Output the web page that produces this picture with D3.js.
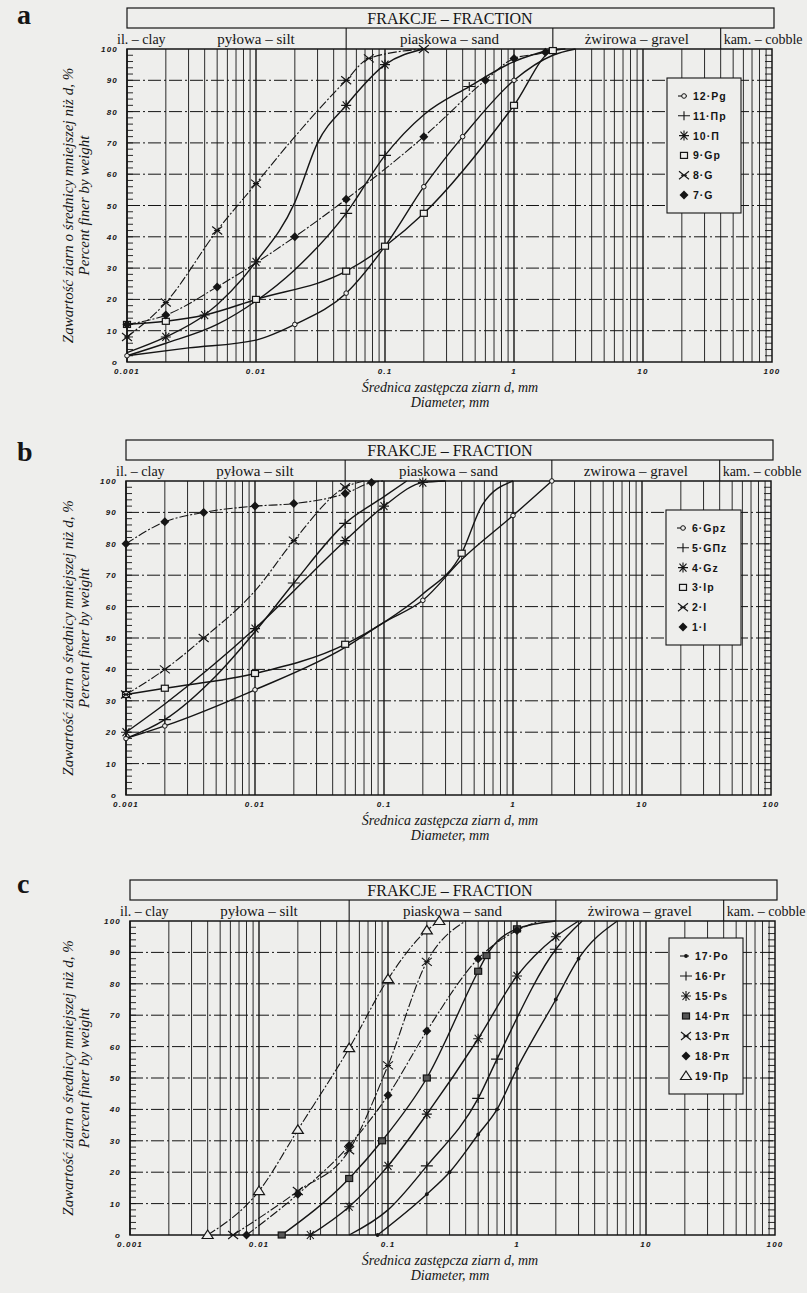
<!DOCTYPE html>
<meta charset="utf-8">
<style>
body { margin: 0; background: #eeeeec; }
svg { display: block; }
</style>
<body>
<script src="https://d3js.org/d3.v7.min.js"></script>
<script>

// axis ticks and fraction header
var sizeTicks = [0.001, 0.01, 0.1, 1, 10, 100];
var sizeTickLabels = ["0.001", "0.01", "0.1", "1", "10", "100"];
var percentTicks = [0, 10, 20, 30, 40, 50, 60, 70, 80, 90, 100];
var fractionLimits = [0.002, 0.05, 2, 40];
var fractionNames = ["il. – clay", "pyłowa – silt", "piaskowa – sand", "żwirowa – gravel", "kam. – cobble"];
var fractionNamesB = ["il. – clay", "pyłowa – silt", "piaskowa – sand", "zwirowa – gravel", "kam. – cobble"];

// [diameter mm, percent finer, 1 = measured point with marker]
// panel a
var a12Pg = [[0.001,2,1],[0.003,4.5,0],[0.01,7,0],[0.02,12,1],[0.05,22,1],[0.1,37,0],[0.2,56,1],[0.4,72,1],[1,90,1],[2,98,0],[3,100,0]];
var a11Pp = [[0.001,2,0],[0.002,6,0],[0.005,12,0],[0.01,19.5,0],[0.02,29.5,0],[0.05,47.5,1],[0.1,66,1],[0.2,79,0],[0.45,88,1],[1,96,0],[2,100,0]];
var a10P  = [[0.001,3,0],[0.002,8,1],[0.004,15,1],[0.01,32,1],[0.02,51,0],[0.03,70,0],[0.05,82,1],[0.1,95,1],[0.2,100,0]];
var a9Gp  = [[0.001,12,1],[0.002,13,1],[0.004,15,0],[0.01,20,1],[0.05,29,1],[0.1,37,1],[0.2,47.5,1],[1,82,1],[2,99.5,1],[2.5,100,0]];
var a8G   = [[0.001,8,1],[0.002,19,1],[0.005,42,1],[0.01,57,1],[0.02,72,0],[0.05,90,1],[0.075,97,1],[0.2,100,1]];
var a7G   = [[0.001,12,1],[0.002,15,1],[0.005,24,1],[0.02,40,1],[0.05,52,1],[0.2,72,1],[0.6,90,1],[1,97,1],[1.75,99,1],[2,100,0]];
var legendA = ["12·Pg", "11·Πp", "10·Π", "9·Gp", "8·G", "7·G"];

// panel b
var b6Gpz = [[0.001,18,1],[0.002,22,1],[0.01,33.5,1],[0.05,47,0],[0.1,55,0],[0.2,62,1],[0.4,75,0],[1,89,1],[2,100,1]];
var b5GPz = [[0.001,18,0],[0.002,24,1],[0.005,38,0],[0.01,52,0],[0.02,67.5,1],[0.05,86.5,1],[0.1,95,0],[0.15,100,0]];
var b4Gz  = [[0.001,20,1],[0.002,29,0],[0.01,53,1],[0.05,81,1],[0.1,92,1],[0.2,99.5,1],[0.3,100,0]];
var b3Ip  = [[0.001,32,1],[0.002,34,1],[0.01,38.7,1],[0.05,48,1],[0.1,55,0],[0.2,64,0],[0.4,77,1],[0.58,92.5,0],[1,100,0]];
var b2I   = [[0.001,32,1],[0.002,40,1],[0.004,50,1],[0.01,65,0],[0.02,81,1],[0.05,98,1],[0.07,100,0]];
var b1I   = [[0.001,80,1],[0.002,87,1],[0.004,90,1],[0.01,92,1],[0.02,92.8,1],[0.05,96,1],[0.08,99.5,1],[0.1,100,0]];
var legendB = ["6·Gpz", "5·GΠz", "4·Gz", "3·Ip", "2·I", "1·I"];

// panel c
var c17Po = [[0.083,0,1],[0.2,13,1],[0.3,20,1],[0.5,32,1],[0.7,40,1],[1,53,1],[2,75,1],[3,88,1],[6,100,0]];
var c16Pr = [[0.05,0,0],[0.1,8,0],[0.2,22,1],[0.5,43.5,1],[0.7,56,1],[2,91,1],[3.2,100,0]];
var c15Ps = [[0.025,0,1],[0.05,9,1],[0.1,22,1],[0.2,38.5,1],[0.5,62.5,1],[1,82.5,1],[2,95,1],[3,100,0]];
var c14Pp = [[0.015,0,1],[0.05,18,1],[0.09,30,1],[0.2,50,1],[0.5,84,1],[0.58,89,1],[1,97.5,1],[2,100,0]];
var c13Pp = [[0.0063,0,1],[0.02,14,1],[0.05,27,1],[0.1,54,1],[0.2,87,1],[0.4,100,0]];
var c18Pp = [[0.008,0,1],[0.02,13,1],[0.05,28.5,1],[0.1,44.5,1],[0.2,65,1],[0.5,88,1],[1,97,1],[1.5,100,0]];
var c19Pp = [[0.004,0,1],[0.01,14,1],[0.02,33.5,1],[0.05,59.5,1],[0.1,81.5,1],[0.2,97,1],[0.25,100,1]];
var legendC = ["17·Po", "16·Pr", "15·Ps", "14·Pπ", "13·Pπ", "18·Pπ", "19·Πp"];

var BG = "#eeeeec", INK = "#151515";
var SERIF = "'Liberation Serif', 'DejaVu Serif', serif";
var SANS = "'Liberation Sans', Arial, sans-serif";

var panels = [
  { label: "a", labelY: 24, x0: 127, y100: 49, y0: 362, names: fractionNames,
    series: [a12Pg, a11Pp, a10P, a9Gp, a8G, a7G], legend: legendA,
    marks: ["circle", "plus", "asterisk", "square", "cross", "diamond"],
    dashed: [0, 0, 0, 0, 1, 1], leg: { x: 667, y: 78, w: 74, h: 135 } },
  { label: "b", labelY: 461, x0: 126, y100: 481, y0: 795, names: fractionNamesB,
    series: [b6Gpz, b5GPz, b4Gz, b3Ip, b2I, b1I], legend: legendB,
    marks: ["circle", "plus", "asterisk", "square", "cross", "diamond"],
    dashed: [0, 0, 0, 0, 1, 1], leg: { x: 666, y: 510, w: 75, h: 135 } },
  { label: "c", labelY: 893, x0: 130, y100: 921, y0: 1235, names: fractionNames,
    series: [c17Po, c16Pr, c15Ps, c14Pp, c13Pp, c18Pp, c19Pp], legend: legendC,
    marks: ["dot", "plus", "asterisk", "squareF", "cross", "diamond", "triangle"],
    dashed: [0, 0, 0, 0, 1, 1, 1], leg: { x: 669, y: 938, w: 74, h: 156 } }
];

var svg = d3.select("body").append("svg")
    .attr("width", 807)
    .attr("height", 1293);

svg.append("rect").attr("width", 807).attr("height", 1293).attr("fill", BG);

function drawMarker(g, type, x, y) {
  var p = d3.path();
  if (type == "circle") {
    g.append("circle").attr("cx", x).attr("cy", y).attr("r", 2.3)
      .attr("fill", BG).attr("stroke", INK).attr("stroke-width", 1);
    return;
  }
  if (type == "dot") {
    g.append("circle").attr("cx", x).attr("cy", y).attr("r", 1.9).attr("fill", INK);
    return;
  }
  if (type == "square" || type == "squareF") {
    g.append("rect").attr("x", x - 3.5).attr("y", y - 3).attr("width", 7).attr("height", 6)
      .attr("fill", type == "squareF" ? "#555" : BG).attr("stroke", INK).attr("stroke-width", 1.2);
    return;
  }
  if (type == "diamond") {
    p.moveTo(x, y - 4.5); p.lineTo(x + 4.5, y); p.lineTo(x, y + 4.5); p.lineTo(x - 4.5, y); p.closePath();
    g.append("path").attr("d", p.toString()).attr("fill", INK);
    return;
  }
  if (type == "triangle") {
    p.moveTo(x, y - 5); p.lineTo(x + 5.5, y + 3.5); p.lineTo(x - 5.5, y + 3.5); p.closePath();
    g.append("path").attr("d", p.toString()).attr("fill", BG).attr("stroke", INK).attr("stroke-width", 1.2);
    return;
  }
  if (type == "plus") {
    p.moveTo(x - 6, y); p.lineTo(x + 6, y); p.moveTo(x, y - 4.5); p.lineTo(x, y + 4.5);
  }
  if (type == "asterisk") {
    p.moveTo(x - 5, y); p.lineTo(x + 5, y); p.moveTo(x, y - 5); p.lineTo(x, y + 5);
    p.moveTo(x - 3.5, y - 4); p.lineTo(x + 3.5, y + 4); p.moveTo(x + 3.5, y - 4); p.lineTo(x - 3.5, y + 4);
  }
  if (type == "cross") {
    p.moveTo(x - 5, y - 4); p.lineTo(x + 5, y + 4); p.moveTo(x + 5, y - 4); p.lineTo(x - 5, y + 4);
    p.moveTo(x - 3, y); p.lineTo(x + 3, y);
  }
  g.append("path").attr("d", p.toString()).attr("fill", "none")
    .attr("stroke", INK).attr("stroke-width", 1.1);
}

panels.forEach(function(P) {
  var x = d3.scaleLog().domain([0.001, 100]).range([P.x0, P.x0 + 645]);
  var y = d3.scaleLinear().domain([0, 100]).range([P.y0, P.y100]);
  var xR = x(100);
  var g = svg.append("g");

  // panel letter
  g.append("text").attr("x", 17).attr("y", P.labelY)
    .style("font", "bold 28px " + SERIF).attr("fill", INK).text(P.label);

  // vertical grid: every 1..9 of each decade
  var vlines = [];
  for (var k = -3; k <= 1; k++) {
    for (var n = 1; n <= 9; n++) vlines.push(n * Math.pow(10, k));
  }
  g.selectAll(null).data(vlines).enter().append("line")
    .attr("x1", d => x(d)).attr("x2", d => x(d))
    .attr("y1", y(100)).attr("y2", y(0))
    .attr("stroke", INK)
    .attr("stroke-width", d => (Math.abs(Math.log10(d) - Math.round(Math.log10(d))) < 1e-6) ? 1.4 : 0.9);

  // horizontal grid, dash-dot
  g.selectAll(null).data(percentTicks.slice(1, -1)).enter().append("line")
    .attr("x1", P.x0).attr("x2", xR)
    .attr("y1", d => y(d)).attr("y2", d => y(d))
    .attr("stroke", INK).attr("stroke-width", 1)
    .attr("stroke-dasharray", "13,3,2,3");

  // minor ticks on left and right edges
  var minor = d3.range(2, 100, 2);
  g.selectAll(null).data(minor).enter().append("line")
    .attr("x1", P.x0).attr("x2", P.x0 + 6)
    .attr("y1", d => y(d)).attr("y2", d => y(d))
    .attr("stroke", INK).attr("stroke-width", 0.9);
  g.selectAll(null).data(minor).enter().append("line")
    .attr("x1", xR - 7).attr("x2", xR)
    .attr("y1", d => y(d)).attr("y2", d => y(d))
    .attr("stroke", INK).attr("stroke-width", 0.9);

  // frame
  g.append("rect").attr("x", P.x0).attr("y", y(100))
    .attr("width", xR - P.x0).attr("height", y(0) - y(100))
    .attr("fill", "none").attr("stroke", INK).attr("stroke-width", 1.5);

  // header: FRAKCJE - FRACTION
  var hTop = P.y100 - 41, hMid = P.y100 - 21;
  g.append("rect").attr("x", P.x0).attr("y", hTop)
    .attr("width", xR + 2 - P.x0).attr("height", hMid - hTop)
    .attr("fill", "none").attr("stroke", INK).attr("stroke-width", 1.2);
  g.append("text").attr("x", 450).attr("y", hMid - 4).attr("text-anchor", "middle")
    .style("font", "16px " + SERIF).attr("fill", INK).text("FRAKCJE – FRACTION");
  g.selectAll(null).data(fractionLimits.slice(1)).enter().append("line")
    .attr("x1", d => x(d)).attr("x2", d => x(d))
    .attr("y1", hMid).attr("y2", P.y100)
    .attr("stroke", INK).attr("stroke-width", 1.1);
  var bounds = [0.001].concat(fractionLimits).concat([100]);
  P.names.forEach(function(name, i) {
    var t = g.append("text").attr("y", P.y100 - 5).attr("fill", INK)
      .style("font", (i == 0 || i == 4 ? "14px " : "15px ") + SERIF).text(name);
    if (i == 0) t.attr("x", P.x0 - 10);
    else if (i == 4) t.attr("x", x(bounds[i]) + 3);
    else t.attr("x", (x(bounds[i]) + x(bounds[i + 1])) / 2).attr("text-anchor", "middle");
  });

  // tick labels
  g.selectAll(null).data(percentTicks).enter().append("text")
    .attr("x", P.x0 - 9).attr("y", d => y(d) + 3)
    .attr("text-anchor", "end")
    .style("font", "italic bold 8px " + SANS).style("letter-spacing", "1.2px")
    .attr("fill", INK).text(d => d == 0 ? "o" : d);
  g.selectAll(null).data(sizeTicks).enter().append("text")
    .attr("x", d => x(d)).attr("y", P.y0 + 12)
    .attr("text-anchor", "middle")
    .style("font", "italic bold 8px " + SANS).style("letter-spacing", "1.2px")
    .attr("fill", INK).text((d, i) => sizeTickLabels[i]);

  // axis titles
  var xc = 450, yc = (P.y100 + P.y0) / 2;
  g.append("text").attr("x", xc).attr("y", P.y0 + 30).attr("text-anchor", "middle")
    .style("font", "italic 14px " + SERIF).attr("fill", INK).text("Średnica zastępcza ziarn d, mm");
  g.append("text").attr("x", xc).attr("y", P.y0 + 45).attr("text-anchor", "middle")
    .style("font", "italic 14px " + SERIF).attr("fill", INK).text("Diameter, mm");
  g.append("text").attr("transform", "translate(73," + yc + ") rotate(-90)")
    .attr("text-anchor", "middle")
    .style("font", "italic 15px " + SERIF).attr("fill", INK)
    .text("Zawartość ziarn o średnicy mniejszej niż d, %");
  g.append("text").attr("transform", "translate(89," + yc + ") rotate(-90)")
    .attr("text-anchor", "middle")
    .style("font", "italic 15px " + SERIF).attr("fill", INK)
    .text("Percent finer by weight");

  // curves
  var line = d3.line().x(d => x(d[0])).y(d => y(d[1])).curve(d3.curveMonotoneX);
  P.series.forEach(function(s, i) {
    g.append("path").attr("d", line(s)).attr("fill", "none")
      .attr("stroke", INK).attr("stroke-width", P.dashed[i] ? 1.1 : 1.4)
      .attr("stroke-dasharray", P.dashed[i] ? "9,2,2,2" : null);
  });
  P.series.forEach(function(s, i) {
    s.filter(d => d[2]).forEach(function(d) { drawMarker(g, P.marks[i], x(d[0]), y(d[1])); });
  });

  // legend
  var L = P.leg;
  g.append("rect").attr("x", L.x).attr("y", L.y).attr("width", L.w).attr("height", L.h)
    .attr("fill", BG).attr("stroke", INK).attr("stroke-width", 1.1);
  var step = (L.h - 36) / (P.legend.length - 1);
  P.legend.forEach(function(name, i) {
    var ly = L.y + 18 + i * step;
    if (P.marks[i] == "circle" || P.marks[i] == "dot") {
      g.append("line").attr("x1", L.x + 11).attr("x2", L.x + 20).attr("y1", ly).attr("y2", ly)
        .attr("stroke", INK).attr("stroke-width", 1.1);
    }
    drawMarker(g, P.marks[i], L.x + 17, ly);
    g.append("text").attr("x", L.x + 26).attr("y", ly + 4)
      .style("font", "bold 10.5px " + SANS).style("letter-spacing", "1px")
      .attr("fill", INK).text(name);
  });
});

</script>
</body>
